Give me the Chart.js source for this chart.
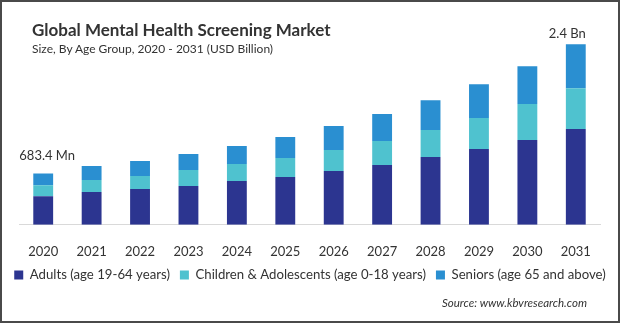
<!DOCTYPE html>
<html>
<head>
<meta charset="utf-8">
<script src="https://cdn.jsdelivr.net/npm/chart.js@4"></script>
<style>
  html, body { margin: 0; padding: 0; background: #fff; }
  #wrap { position: relative; width: 620px; height: 323px; overflow: hidden; background: #fff; }
  #c { position: absolute; left: 0; top: 0; }
  .txt { position: absolute; white-space: nowrap; color: #333; font-family: Lato, "Open Sans", sans-serif; }
  #title { left: 32px; top: 19px; font-size: 17px; font-weight: bold; line-height: 22px; }
  #subtitle { left: 32px; top: 41px; font-size: 12px; line-height: 16px; }
  #source { left: 442px; top: 295px; font-size: 11.5px; font-style: italic; line-height: 16px; }
  #frame { position: absolute; left: 0; top: 0; width: 620px; height: 323px; box-sizing: border-box; border: 2px solid #4a4a4a; pointer-events: none; }
</style>
</head>
<body>
<div id="wrap">
  <canvas id="c" width="620" height="323"></canvas>
  <div class="txt" id="title">Global Mental Health Screening Market</div>
  <div class="txt" id="subtitle">Size, By Age Group, 2020 - 2031 (USD Billion)</div>
  <div class="txt" id="source">Source: www.kbvresearch.com</div>
  <div id="frame"></div>
</div>
<script>
const categories = ["2020","2021","2022","2023","2024","2025","2026","2027","2028","2029","2030","2031"];
const adults   = [0.380, 0.437, 0.477, 0.517, 0.583, 0.636, 0.715, 0.795, 0.901, 1.007, 1.126, 1.272];
const children = [0.145, 0.159, 0.172, 0.212, 0.225, 0.252, 0.278, 0.318, 0.358, 0.411, 0.477, 0.543];
const seniors  = [0.158, 0.185, 0.199, 0.212, 0.238, 0.278, 0.318, 0.358, 0.397, 0.450, 0.503, 0.583];
const seriesNames = ["Adults (age 19-64 years)", "Children & Adolescents (age 0-18 years)", "Seniors (age 65 and above)"];
const seriesColors = ["#2c3590", "#4fc2cf", "#2a8fd1"];
const endLabels = ["683.4 Mn", "2.4 Bn"];

const FONT = "Lato, 'Open Sans', sans-serif";

const endLabelPlugin = {
  id: "endLabels",
  afterDatasetsDraw(chart) {
    const meta = chart.getDatasetMeta(2);
    const ctx = chart.ctx;
    ctx.save();
    ctx.font = "13px " + FONT;
    ctx.fillStyle = "#333";
    ctx.textAlign = "center";
    ctx.textBaseline = "middle";
    const first = meta.data[0];
    const last = meta.data[meta.data.length - 1];
    ctx.fillText(endLabels[0], first.x + 4, first.y - 18);
    ctx.fillText(endLabels[1], last.x - 8.5, last.y - 10);
    ctx.restore();
  }
};

new Chart(document.getElementById("c"), {
  type: "bar",
  data: {
    labels: categories,
    datasets: [
      { label: seriesNames[0], data: adults, backgroundColor: seriesColors[0] },
      { label: seriesNames[1], data: children, backgroundColor: seriesColors[1] },
      { label: seriesNames[2], data: seniors, backgroundColor: seriesColors[2] }
    ]
  },
  options: {
    responsive: false,
    animation: false,
    devicePixelRatio: 1,
    layout: { padding: { top: 14, left: 0, right: 0, bottom: 31.5 } },
    datasets: { bar: { barPercentage: 0.41, categoryPercentage: 1.0 } },
    scales: {
      x: {
        stacked: true,
        grid: { display: false },
        border: { display: true, color: "#d9d9d9", width: 1 },
        ticks: { color: "#333", font: { family: FONT, size: 13 }, padding: 11 },
        afterFit(scale) { scale.height = 33.5; }
      },
      y: {
        stacked: true,
        min: 0,
        max: 2.8,
        position: "left",
        grid: { display: false },
        border: { display: false },
        ticks: { display: false },
        afterFit(scale) { scale.width = 19; }
      },
      yR: {
        type: "linear",
        position: "right",
        display: true,
        grid: { display: false },
        border: { display: false },
        ticks: { display: false },
        afterFit(scale) { scale.width = 20; }
      }
    },
    plugins: {
      legend: {
        position: "bottom",
        labels: {
          boxWidth: 9,
          boxHeight: 9,
          padding: 10,
          color: "#333",
          font: { family: FONT, size: 13.2 }
        }
      },
      tooltip: { enabled: false },
      title: { display: false }
    }
  },
  plugins: [endLabelPlugin]
});
</script>
</body>
</html>
